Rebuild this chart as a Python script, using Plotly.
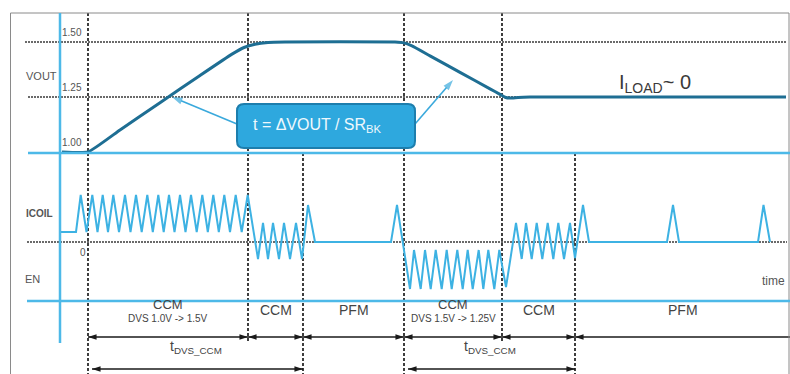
import plotly.graph_objects as go

# ---------------- data ----------------
# VOUT (volts) vs time (arbitrary time units)
vout_t = [62, 88, 120, 160, 200, 232, 244, 255, 268, 285, 395, 404, 412, 430, 460, 490, 500, 505, 510, 518, 530, 786]
vout_v = [1.00, 1.00, 1.10, 1.224, 1.348, 1.445, 1.475, 1.490, 1.498, 1.50, 1.50, 1.496, 1.482, 1.437, 1.362, 1.287, 1.262, 1.249, 1.245, 1.248, 1.25, 1.25]

# ICOIL (arbitrary units) vs time
icoil_t = [60, 76,
           80.7, 86.5, 92.3, 97.5, 102.7, 108, 113.3, 119, 125, 130.5, 136, 141.7, 147.3, 152.8,
           158.3, 163.7, 169, 174.5, 180, 185.5, 191, 196.7, 202.3, 207.8, 213.3, 218.8, 224.3,
           230, 235.7, 241.7, 247.7,
           258, 263, 268, 273, 279, 284, 290, 296, 302,
           308, 315, 391, 397,
           410, 414, 420.7, 425, 430.7, 435.7, 441.7, 446.7, 451.7, 457.3, 462.7, 467.7, 472.7,
           478.7, 483.3, 488.3, 494.3, 499.3, 506,
           516, 521.7, 526, 531.7, 536.7, 542.3, 547.7, 553.3, 558.3, 564, 570, 575,
           583, 589, 667, 673, 679, 758, 763.5, 770]
icoil_v = [1.0, 1.0,
           4.7, 1.0, 4.7, 1.0, 4.7, 1.0, 4.7, 1.0, 4.7, 1.0, 4.7, 1.0, 4.7, 1.0,
           4.7, 1.0, 4.7, 1.0, 4.7, 1.0, 4.7, 1.0, 4.7, 1.0, 4.7, 1.0, 4.7,
           1.0, 4.7, 1.0, 4.7,
           -1.7, 1.9, -1.7, 1.9, -1.7, 1.9, -1.7, 1.9, -1.7,
           3.7, 0.0, 0.0, 3.7,
           -4.7, -0.8, -4.7, -0.8, -4.7, -0.8, -4.7, -0.8, -4.7, -0.8, -4.7, -0.8, -4.7,
           -0.8, -4.7, -0.8, -4.7, -0.8, -4.5,
           1.9, -1.7, 1.9, -1.7, 1.9, -1.7, 1.9, -1.7, 1.9, -1.7, 1.9, -1.6,
           3.7, 0.0, 0.0, 3.7, 0.0, 0.0, 3.7, 0.0]

vout_ticks = [1.50, 1.25, 1.00]
vout_tick_labels = ["1.50", "1.25", "1.00"]

mode_bounds = [88, 248, 303, 404, 502, 575, 790]
mode_labels = ["CCM", "CCM", "PFM", "CCM", "CCM", "PFM"]
dvs_labels = ["DVS 1.0V -> 1.5V", "", "", "DVS 1.5V -> 1.25V", "", ""]
tdvs_spans = [(88, 303), (404, 575)]

# ---------------- layout helpers ----------------
W, H = 790, 374
FONT = "Liberation Sans, Arial, sans-serif"
LBLUE = "#3DB2E3"
AXBLUE = "#4DB9E8"
DARK = "#1E6E93"
TXT = "#444444"
VPX = 220                    # pixels per volt
V150_PX = 42                 # pixel row of 1.50 V
I0_PX = 242                  # pixel row of ICOIL = 0
IPX = 10                     # pixels per ICOIL unit


def P(ypix):
    return 1 - ypix / H


def V(ypix):
    return 1.5 - (ypix - V150_PX) / VPX


def I(ypix):
    return (I0_PX - ypix) / IPX


fig = go.Figure()

fig.add_trace(go.Scatter(x=vout_t, y=vout_v, mode="lines", yaxis="y",
                         line=dict(color=DARK, width=3, shape="spline", smoothing=0.4),
                         hoverinfo="skip", showlegend=False))
fig.add_trace(go.Scatter(x=icoil_t, y=icoil_v, mode="lines", yaxis="y2",
                         line=dict(color=LBLUE, width=2),
                         hoverinfo="skip", showlegend=False))

shapes = []
frame = dict(color="#8a8a8a", width=1)
shapes += [
    dict(type="line", xref="x", yref="paper", x0=10.5, x1=10.5, y0=P(13), y1=P(380), line=frame),
    dict(type="line", xref="x", yref="paper", x0=10.5, x1=789, y0=P(13), y1=P(13), line=frame),
    dict(type="line", xref="x", yref="paper", x0=789, x1=789, y0=P(13), y1=P(380), line=frame),
]
dotted = dict(color="#3a3a3a", width=1.5, dash="2px,1px")
shapes += [
    dict(type="line", xref="x", yref="y", x0=25, x1=787, y0=1.50, y1=1.50, line=dotted, layer="below"),
    dict(type="line", xref="x", yref="y", x0=28, x1=787, y0=1.25, y1=1.25, line=dotted, layer="below"),
    dict(type="line", xref="x", yref="y2", x0=27, x1=787, y0=0, y1=0, line=dotted, layer="below"),
]
vspans = {88: (13, 374), 248: (13, 343), 303: (153, 374), 404: (13, 374), 502: (13, 343), 575: (153, 374)}
for xb in mode_bounds[:-1]:
    y0p, y1p = vspans[xb]
    shapes.append(dict(type="line", xref="x", yref="paper", x0=xb, x1=xb, y0=P(y0p), y1=P(y1p),
                       line=dict(color="#2a2a2a", width=1.8, dash="3px,2px"), layer="below"))
shapes += [
    dict(type="line", xref="x", yref="paper", x0=60, x1=60, y0=P(13), y1=P(343), line=dict(color=AXBLUE, width=2.5)),
    dict(type="line", xref="x", yref="paper", x0=28, x1=790, y0=P(153), y1=P(153), line=dict(color=AXBLUE, width=2.5)),
    dict(type="line", xref="x", yref="paper", x0=27, x1=790, y0=P(301), y1=P(301), line=dict(color=AXBLUE, width=2.5)),
]
# callout box (rounded rectangle)
x0, x1 = 237, 415
yt, yb = V(104), V(148)
rx, ry = 7, 7 / VPX
path = (f"M {x0+rx},{yt} L {x1-rx},{yt} Q {x1},{yt} {x1},{yt-ry} L {x1},{yb+ry} "
        f"Q {x1},{yb} {x1-rx},{yb} L {x0+rx},{yb} Q {x0},{yb} {x0},{yb+ry} "
        f"L {x0},{yt-ry} Q {x0},{yt} {x0+rx},{yt} Z")
shapes.append(dict(type="path", xref="x", yref="y", path=path,
                   fillcolor="#2EA8DE", line=dict(color="#1D7EAD", width=2), layer="above"))

# callout arrows (line + arrow marker oriented along the segment)
for tail, tip in [((237, V(124)), (172, 1.25)), ((415, V(124)), (453, V(80)))]:
    fig.add_trace(go.Scatter(x=[tail[0], tip[0]], y=[tail[1], tip[1]], mode="lines+markers", yaxis="y",
                             line=dict(color="#3AA9DC", width=1.6),
                             marker=dict(symbol="arrow", size=[0, 11], angleref="previous",
                                         color="#3AA9DC", line=dict(width=0)),
                             hoverinfo="skip", showlegend=False))


def span_arrows(spans, yv, heads):
    xs, ys = [], []
    for a, b in spans:
        xs += [a, b, None]
        ys += [yv, yv, None]
    fig.add_trace(go.Scatter(x=xs, y=ys, mode="lines", yaxis="y2",
                             line=dict(color="#1a1a1a", width=1.5),
                             hoverinfo="skip", showlegend=False))
    hx = [h[0] for h in heads]
    ang = [h[1] for h in heads]
    fig.add_trace(go.Scatter(x=hx, y=[yv] * len(hx), mode="markers", yaxis="y2",
                             marker=dict(symbol="arrow", size=9, angle=ang, color="#1a1a1a",
                                         line=dict(width=0)),
                             hoverinfo="skip", showlegend=False))


mode_spans = list(zip(mode_bounds[:-1], mode_bounds[1:]))
heads1 = []
for i, (a, b) in enumerate(mode_spans):
    heads1.append((a, 270))
    if i < len(mode_spans) - 1:
        heads1.append((b, 90))
span_arrows(mode_spans, I(337), heads1)
heads2 = []
for a, b in tdvs_spans:
    heads2 += [(a + 4, 270), (b, 90)]
span_arrows([(a + 4, b) for a, b in tdvs_spans], I(369), heads2)

ann = []
for v, lab in zip(vout_ticks, vout_tick_labels):
    ann.append(dict(x=72, y=v, xref="x", yref="y", yshift=10, text=lab, showarrow=False,
                    font=dict(family=FONT, size=10, color="#555")))
ann.append(dict(x=41, y=P(68), xref="x", yref="paper", text="VOUT", showarrow=False,
                font=dict(family=FONT, size=11, color="#555")))
ann.append(dict(x=39, y=P(214), xref="x", yref="paper", text="<b>ICOIL</b>", showarrow=False,
                font=dict(family=FONT, size=10, color="#555")))
ann.append(dict(x=83, y=0, xref="x", yref="y2", yshift=-10, text="0", showarrow=False,
                font=dict(family=FONT, size=10, color="#555")))
ann.append(dict(x=32, y=P(287), xref="x", yref="paper", text="EN", showarrow=False,
                font=dict(family=FONT, size=11, color="#555")))
ann.append(dict(x=773, y=P(290), xref="x", yref="paper", text="time", showarrow=False,
                font=dict(family=FONT, size=12, color="#555")))
ann.append(dict(x=617, y=P(69), xref="x", yref="paper", xanchor="left", text="I<sub>LOAD</sub>~ 0",
                showarrow=False, font=dict(family=FONT, size=20, color="#3a3a3a")))
ann.append(dict(x=317, y=V(125), xref="x", yref="y", text="t = ΔVOUT / SR<sub>BK</sub>",
                showarrow=False, font=dict(family=FONT, size=16, color="#EEF8FD")))

for i, lab in enumerate(mode_labels):
    a, b = mode_spans[i]
    mid = (a + b) / 2
    if dvs_labels[i]:
        ann.append(dict(x=mid, y=P(314), xref="x", yref="paper", text=lab, showarrow=False,
                        font=dict(family=FONT, size=13, color=TXT)))
        ann.append(dict(x=mid, y=P(326), xref="x", yref="paper", text=dvs_labels[i], showarrow=False,
                        font=dict(family=FONT, size=10, color=TXT)))
    else:
        ann.append(dict(x=mid, y=P(320), xref="x", yref="paper", text=lab, showarrow=False,
                        font=dict(family=FONT, size=14, color=TXT)))
for a, b in tdvs_spans:
    ann.append(dict(x=(a + b) / 2, y=P(358), xref="x", yref="paper", text="t<sub>DVS_CCM</sub>",
                    showarrow=False, font=dict(family=FONT, size=14, color=TXT)))

fig.update_layout(
    width=W, height=H, margin=dict(l=0, r=0, t=0, b=0),
    paper_bgcolor="white", plot_bgcolor="white",
    xaxis=dict(range=[0, W], visible=False, fixedrange=True),
    yaxis=dict(range=[V(H), V(0)], visible=False, fixedrange=True),
    yaxis2=dict(range=[I(H), I(0)], overlaying="y", visible=False, fixedrange=True),
    shapes=shapes, annotations=ann, showlegend=False,
)

fig.write_html("out.html", config={"displayModeBar": False},
               post_script="document.body.style.margin='0';document.body.style.overflow='hidden';")
